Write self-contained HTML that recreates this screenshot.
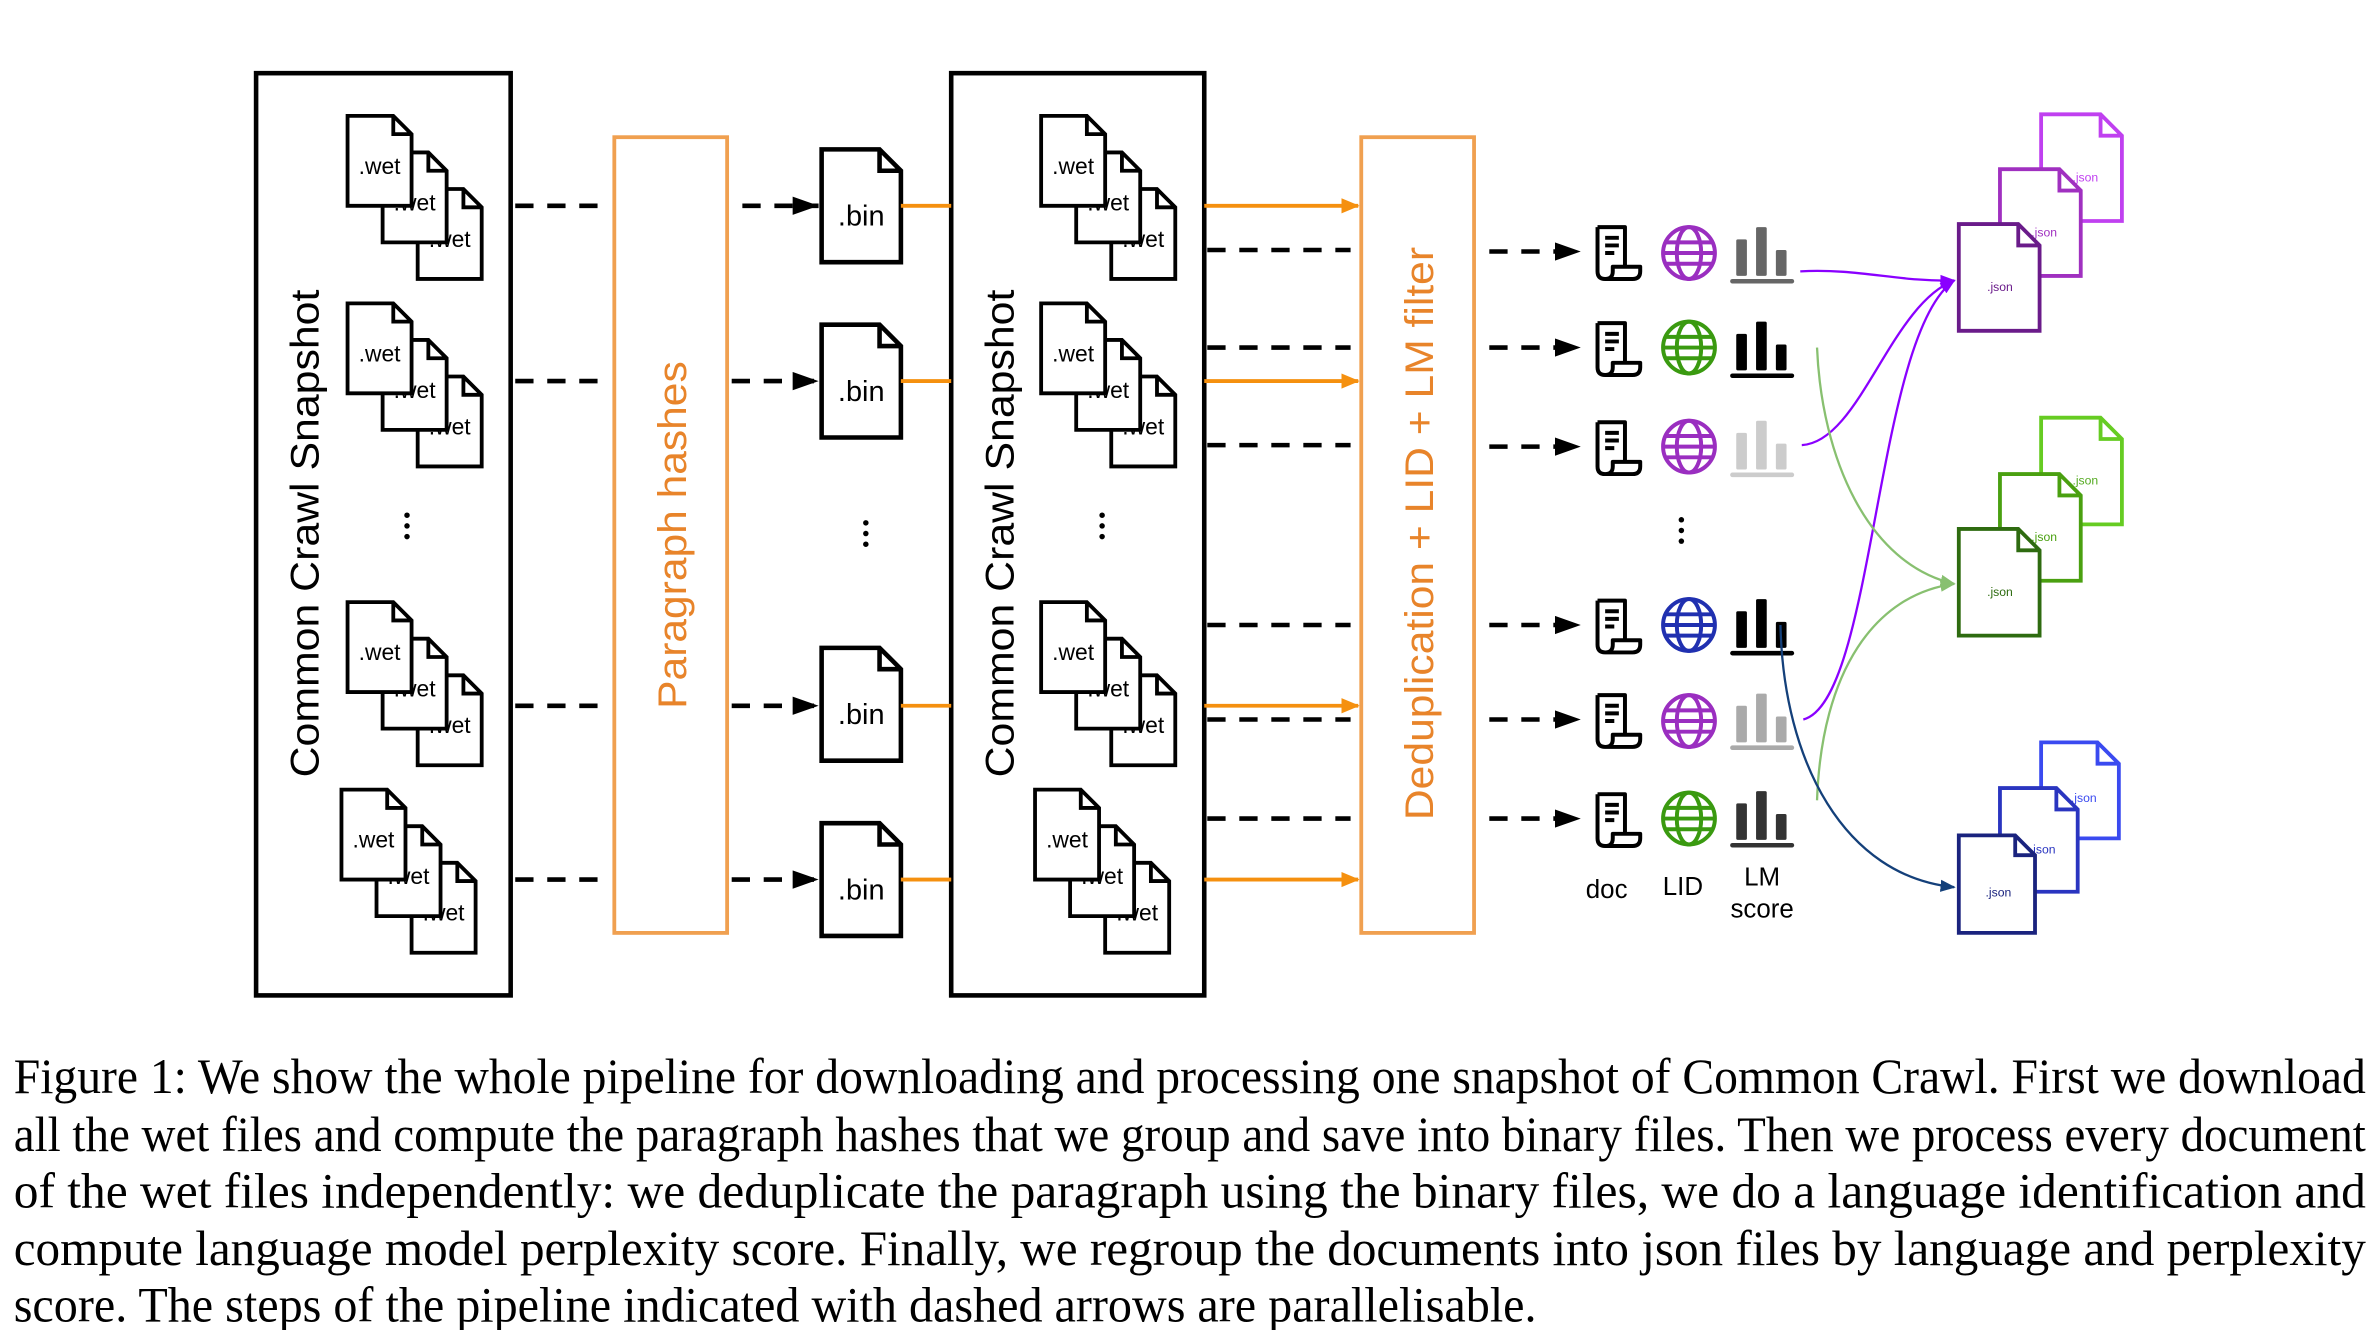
<!DOCTYPE html>
<html><head><meta charset="utf-8"><style>html,body{margin:0;padding:0;background:#fff}svg{display:block}</style></head><body>
<svg width="2378" height="1330" viewBox="0 0 1560 872.5" xmlns="http://www.w3.org/2000/svg" font-family="Liberation Sans, Arial, sans-serif">
<defs>
<marker id="ab" markerWidth="18" markerHeight="14" refX="17" refY="6" orient="auto" markerUnits="userSpaceOnUse"><path d="M0,0 L17,6 L0,12 Z" fill="#000"/></marker>
<marker id="ao" markerWidth="12" markerHeight="12" refX="11" refY="6" orient="auto" markerUnits="userSpaceOnUse"><path d="M0,1 L12,6 L0,11 Z" fill="#f5900f"/></marker>
<marker id="ap" markerWidth="10" markerHeight="10" refX="9" refY="5" orient="auto" markerUnits="userSpaceOnUse"><path d="M0,1 L10,5 L0,9 Z" fill="#8a00ff"/></marker>
<marker id="ag" markerWidth="10" markerHeight="10" refX="9" refY="5" orient="auto" markerUnits="userSpaceOnUse"><path d="M0,1 L10,5 L0,9 Z" fill="#88c070"/></marker>
<marker id="an" markerWidth="10" markerHeight="10" refX="9" refY="5" orient="auto" markerUnits="userSpaceOnUse"><path d="M0,1 L10,5 L0,9 Z" fill="#14407a"/></marker>
<g id="wf"><path d="M0 0H30L42 12V59H0Z M30 0V12H42" fill="#fff" stroke="#000" stroke-width="2.5"/></g>
<g id="bf"><path d="M0 0H38L52 14V74H0Z M38 0V14H52" fill="#fff" stroke="#000" stroke-width="3"/></g>
<g id="doc"><path d="M-12 -16H6V10 M-12 -16V13 Q-12 18 -7 18 Q-2 18 -2 13 V10 H16 V13 Q16 18 11 18 H-7" fill="none" stroke="#000" stroke-width="2.6" stroke-linejoin="round"/><path d="M-7 -9H2 M-7 -4H2 M-7 1H-1" stroke="#000" stroke-width="2.6"/></g>
</defs>

<rect x="168" y="48" width="167" height="605" fill="none" stroke="#000" stroke-width="3"/>
<text transform="translate(209,350) rotate(-90)" text-anchor="middle" font-size="26" textLength="320" lengthAdjust="spacingAndGlyphs">Common Crawl Snapshot</text>
<rect x="624" y="48" width="166" height="605" fill="none" stroke="#000" stroke-width="3"/>
<text transform="translate(665,350) rotate(-90)" text-anchor="middle" font-size="26" textLength="320" lengthAdjust="spacingAndGlyphs">Common Crawl Snapshot</text>

<g font-size="15" text-anchor="middle">
<g transform="translate(228,76)"><use href="#wf" x="46" y="48"/><text x="67" y="86">.wet</text><use href="#wf" x="23" y="24"/><text x="44" y="62">.wet</text><use href="#wf"/><text x="21" y="38">.wet</text></g>
<g transform="translate(228,199)"><use href="#wf" x="46" y="48"/><text x="67" y="86">.wet</text><use href="#wf" x="23" y="24"/><text x="44" y="62">.wet</text><use href="#wf"/><text x="21" y="38">.wet</text></g>
<g transform="translate(228,395)"><use href="#wf" x="46" y="48"/><text x="67" y="86">.wet</text><use href="#wf" x="23" y="24"/><text x="44" y="62">.wet</text><use href="#wf"/><text x="21" y="38">.wet</text></g>
<g transform="translate(224,518)"><use href="#wf" x="46" y="48"/><text x="67" y="86">.wet</text><use href="#wf" x="23" y="24"/><text x="44" y="62">.wet</text><use href="#wf"/><text x="21" y="38">.wet</text></g>
<g transform="translate(683,76)"><use href="#wf" x="46" y="48"/><text x="67" y="86">.wet</text><use href="#wf" x="23" y="24"/><text x="44" y="62">.wet</text><use href="#wf"/><text x="21" y="38">.wet</text></g>
<g transform="translate(683,199)"><use href="#wf" x="46" y="48"/><text x="67" y="86">.wet</text><use href="#wf" x="23" y="24"/><text x="44" y="62">.wet</text><use href="#wf"/><text x="21" y="38">.wet</text></g>
<g transform="translate(683,395)"><use href="#wf" x="46" y="48"/><text x="67" y="86">.wet</text><use href="#wf" x="23" y="24"/><text x="44" y="62">.wet</text><use href="#wf"/><text x="21" y="38">.wet</text></g>
<g transform="translate(679,518)"><use href="#wf" x="46" y="48"/><text x="67" y="86">.wet</text><use href="#wf" x="23" y="24"/><text x="44" y="62">.wet</text><use href="#wf"/><text x="21" y="38">.wet</text></g>
</g>
<g fill="#000"><circle cx="267" cy="338" r="1.8"/><circle cx="267" cy="345" r="1.8"/><circle cx="267" cy="352" r="1.8"/>
<circle cx="723" cy="338" r="1.8"/><circle cx="723" cy="345" r="1.8"/><circle cx="723" cy="352" r="1.8"/>
<circle cx="568" cy="343" r="1.8"/><circle cx="568" cy="350" r="1.8"/><circle cx="568" cy="357" r="1.8"/>
<circle cx="1103" cy="341" r="1.8"/><circle cx="1103" cy="348" r="1.8"/><circle cx="1103" cy="355" r="1.8"/></g>

<rect x="403" y="90" width="74" height="522" fill="none" stroke="#f0a050" stroke-width="2.5"/>
<text transform="translate(450,351) rotate(-90)" text-anchor="middle" font-size="26" fill="#e8842a" textLength="228" lengthAdjust="spacingAndGlyphs">Paragraph hashes</text>

<g stroke="#000" stroke-width="3" stroke-dasharray="12,9" fill="none">
<path d="M338 135H400"/><path d="M338 250H400"/><path d="M338 463H400"/><path d="M338 577H400"/>
<path d="M487 135H537" marker-end="url(#ab)"/><path d="M480 250H537" marker-end="url(#ab)"/><path d="M480 463H537" marker-end="url(#ab)"/><path d="M480 577H537" marker-end="url(#ab)"/>
</g>
<g font-size="19" text-anchor="middle">
<use href="#bf" x="539" y="98"/><text x="565" y="148">.bin</text>
<use href="#bf" x="539" y="213"/><text x="565" y="263">.bin</text>
<use href="#bf" x="539" y="425"/><text x="565" y="475">.bin</text>
<use href="#bf" x="539" y="540"/><text x="565" y="590">.bin</text>
</g>
<g stroke="#f5900f" stroke-width="2.5"><path d="M591 135H624M591 250H624M591 463H624M591 577H624"/></g>
<g stroke="#f5900f" stroke-width="2.5" fill="none">
<path d="M790 135H891" marker-end="url(#ao)"/><path d="M790 250H891" marker-end="url(#ao)"/><path d="M790 463H891" marker-end="url(#ao)"/><path d="M790 577H891" marker-end="url(#ao)"/>
</g>
<g stroke="#000" stroke-width="3" stroke-dasharray="12,9" fill="none">
<path d="M792 164H886M792 228H886M792 292H886M792 410H886M792 472H886M792 537H886"/>
<path d="M977 165H1037" marker-end="url(#ab)"/><path d="M977 228H1037" marker-end="url(#ab)"/><path d="M977 293H1037" marker-end="url(#ab)"/><path d="M977 410H1037" marker-end="url(#ab)"/><path d="M977 472H1037" marker-end="url(#ab)"/><path d="M977 537H1037" marker-end="url(#ab)"/>
</g>

<rect x="893" y="90" width="74" height="522" fill="none" stroke="#f0a050" stroke-width="2.5"/>
<text transform="translate(940,350) rotate(-90)" text-anchor="middle" font-size="26" fill="#e8842a" textLength="376" lengthAdjust="spacingAndGlyphs">Deduplication + LID + LM filter</text>

<g>
<use href="#doc" x="1060" y="165"/><use href="#doc" x="1060" y="228"/><use href="#doc" x="1060" y="293"/><use href="#doc" x="1060" y="410"/><use href="#doc" x="1060" y="472"/><use href="#doc" x="1060" y="537"/>
</g>
<g fill="none" stroke-width="2.6">
<g stroke="#9a2ec0" transform="translate(1108,166)"><circle r="17"/><ellipse rx="8" ry="17"/><path d="M-17 0H17M-15 -7H15M-15 7H15"/></g>
<g stroke="#3a9a10" transform="translate(1108,228)"><circle r="17"/><ellipse rx="8" ry="17"/><path d="M-17 0H17M-15 -7H15M-15 7H15"/></g>
<g stroke="#9a2ec0" transform="translate(1108,293)"><circle r="17"/><ellipse rx="8" ry="17"/><path d="M-17 0H17M-15 -7H15M-15 7H15"/></g>
<g stroke="#2030b0" transform="translate(1108,410)"><circle r="17"/><ellipse rx="8" ry="17"/><path d="M-17 0H17M-15 -7H15M-15 7H15"/></g>
<g stroke="#9a2ec0" transform="translate(1108,473)"><circle r="17"/><ellipse rx="8" ry="17"/><path d="M-17 0H17M-15 -7H15M-15 7H15"/></g>
<g stroke="#3a9a10" transform="translate(1108,537)"><circle r="17"/><ellipse rx="8" ry="17"/><path d="M-17 0H17M-15 -7H15M-15 7H15"/></g>
</g>
<g>
<g fill="#666" transform="translate(1135,183)"><rect x="4" y="-26" width="7" height="24" rx="1"/><rect x="17" y="-34" width="7" height="32" rx="1"/><rect x="30" y="-19" width="7" height="17" rx="1"/><rect x="0" y="0" width="42" height="3" rx="1.5"/></g>
<g fill="#000" transform="translate(1135,245)"><rect x="4" y="-26" width="7" height="24" rx="1"/><rect x="17" y="-34" width="7" height="32" rx="1"/><rect x="30" y="-19" width="7" height="17" rx="1"/><rect x="0" y="0" width="42" height="3" rx="1.5"/></g>
<g fill="#ccc" transform="translate(1135,310)"><rect x="4" y="-26" width="7" height="24" rx="1"/><rect x="17" y="-34" width="7" height="32" rx="1"/><rect x="30" y="-19" width="7" height="17" rx="1"/><rect x="0" y="0" width="42" height="3" rx="1.5"/></g>
<g fill="#000" transform="translate(1135,427)"><rect x="4" y="-26" width="7" height="24" rx="1"/><rect x="17" y="-34" width="7" height="32" rx="1"/><rect x="30" y="-19" width="7" height="17" rx="1"/><rect x="0" y="0" width="42" height="3" rx="1.5"/></g>
<g fill="#aaa" transform="translate(1135,489)"><rect x="4" y="-26" width="7" height="24" rx="1"/><rect x="17" y="-34" width="7" height="32" rx="1"/><rect x="30" y="-19" width="7" height="17" rx="1"/><rect x="0" y="0" width="42" height="3" rx="1.5"/></g>
<g fill="#333" transform="translate(1135,553)"><rect x="4" y="-26" width="7" height="24" rx="1"/><rect x="17" y="-34" width="7" height="32" rx="1"/><rect x="30" y="-19" width="7" height="17" rx="1"/><rect x="0" y="0" width="42" height="3" rx="1.5"/></g>
</g>
<g font-size="17" text-anchor="middle"><text x="1054" y="589">doc</text><text x="1104" y="587">LID</text><text x="1156" y="581">LM</text><text x="1156" y="602">score</text></g>

<g font-size="8" text-anchor="middle" stroke-width="2.5">
<path d="M1339 75H1378L1392 89V145H1339Z M1378 75V89H1392" fill="#fff" stroke="#c040f0"/><text x="1368" y="119" fill="#c040f0">.json</text>
<path d="M1312 111H1351L1365 125V181H1312Z M1351 111V125H1365" fill="#fff" stroke="#a030c0"/><text x="1341" y="155" fill="#a030c0">.json</text>
<path d="M1285 147H1324L1338 161V217H1285Z M1324 147V161H1338" fill="#fff" stroke="#6a1b8a"/><text x="1312" y="191" fill="#6a1b8a">.json</text>
<path d="M1339 274H1378L1392 288V344H1339Z M1378 274V288H1392" fill="#fff" stroke="#66cc22"/><text x="1368" y="318" fill="#55aa22">.json</text>
<path d="M1312 311H1351L1365 325V381H1312Z M1351 311V325H1365" fill="#fff" stroke="#4aa010"/><text x="1341" y="355" fill="#4aa010">.json</text>
<path d="M1285 347H1324L1338 361V417H1285Z M1324 347V361H1338" fill="#fff" stroke="#2e6b10"/><text x="1312" y="391" fill="#2e6b10">.json</text>
<path d="M1339 487H1376L1390 501V550H1339Z M1376 487V501H1390" fill="#fff" stroke="#3a4af0"/><text x="1367" y="526" fill="#3a4af0">.json</text>
<path d="M1312 517H1349L1363 531V585H1312Z M1349 517V531H1363" fill="#fff" stroke="#2a35c0"/><text x="1340" y="560" fill="#2a35c0">.json</text>
<path d="M1285 548H1322L1335 561V612H1285Z M1322 548V561H1335" fill="#fff" stroke="#1a237e"/><text x="1311" y="588" fill="#1a237e">.json</text>
</g>

<g fill="none" stroke-width="1.5">
<path d="M1181 178 C1220 176 1245 185 1282 184" stroke="#8a00ff" marker-end="url(#ap)"/>
<path d="M1182 292 C1220 290 1240 200 1282 184" stroke="#8a00ff" marker-end="url(#ap)"/>
<path d="M1183 472 C1230 460 1230 220 1282 184" stroke="#8a00ff" marker-end="url(#ap)"/>
<path d="M1192 228 C1195 300 1225 370 1282 383" stroke="#88c070" marker-end="url(#ag)"/>
<path d="M1192 525 C1195 440 1230 390 1282 383" stroke="#88c070" marker-end="url(#ag)"/>
<path d="M1168 410 C1170 500 1210 575 1282 582" stroke="#14407a" marker-end="url(#an)"/>
</g>

<g font-family="Liberation Serif, Times New Roman, serif" font-size="32.5" fill="#000">
<text x="9" y="717" textLength="1543" lengthAdjust="spacingAndGlyphs">Figure 1: We show the whole pipeline for downloading and processing one snapshot of Common Crawl. First we download</text>
<text x="9" y="755" textLength="1543" lengthAdjust="spacingAndGlyphs">all the wet files and compute the paragraph hashes that we group and save into binary files. Then we process every document</text>
<text x="9" y="792" textLength="1543" lengthAdjust="spacingAndGlyphs">of the wet files independently: we deduplicate the paragraph using the binary files, we do a language identification and</text>
<text x="9" y="830" textLength="1543" lengthAdjust="spacingAndGlyphs">compute language model perplexity score. Finally, we regroup the documents into json files by language and perplexity</text>
<text x="9" y="867" textLength="999" lengthAdjust="spacingAndGlyphs">score. The steps of the pipeline indicated with dashed arrows are parallelisable.</text>
</g>
</svg>
</body></html>
